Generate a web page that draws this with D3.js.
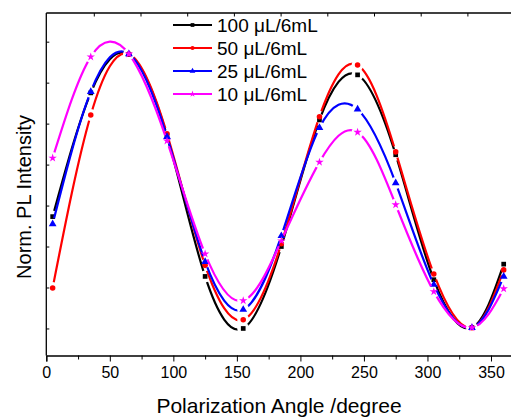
<!DOCTYPE html>
<html>
<head>
<meta charset="utf-8">
<script src="https://cdn.jsdelivr.net/npm/d3@7"></script>
<style>
  body { margin: 0; background: #fff; }
  svg { display: block; font-family: "Liberation Sans", Arial, sans-serif; }
</style>
</head>
<body>
<div id="chart"></div>
<script>
const angles = [5, 35, 65, 95, 125, 155, 185, 215, 245, 275, 305, 335, 360];
const s100 = [0.573, 0.875, 0.969, 0.770, 0.427, 0.300, 0.500, 0.809, 0.919, 0.724, 0.419, 0.302, 0.457];
const s50  = [0.399, 0.821, 0.970, 0.775, 0.454, 0.321, 0.507, 0.817, 0.943, 0.731, 0.433, 0.302, 0.443];
const s25  = [0.555, 0.878, 0.970, 0.768, 0.463, 0.346, 0.526, 0.790, 0.835, 0.655, 0.407, 0.302, 0.427];
const s10  = [0.716, 0.963, 0.970, 0.758, 0.482, 0.368, 0.514, 0.706, 0.779, 0.602, 0.390, 0.302, 0.397];
const seriesNames = ["100 \u03bcL/6mL", "50 \u03bcL/6mL", "25 \u03bcL/6mL", "10 \u03bcL/6mL"];
const xTicks = [0, 50, 100, 150, 200, 250, 300, 350];
const yTicks = [0.3, 0.4, 0.5, 0.6, 0.7, 0.8, 0.9, 1.0];

const series = [
  { name: seriesNames[0], values: s100, color: "#000000", symbol: d3.symbolSquare, size: 22 },
  { name: seriesNames[1], values: s50,  color: "#ff0000", symbol: d3.symbolCircle, size: 24 },
  { name: seriesNames[2], values: s25,  color: "#0000ff", symbol: d3.symbolTriangle, size: 26 },
  { name: seriesNames[3], values: s10,  color: "#ff00ff", symbol: d3.symbolStar, size: 22 }
];

const W = 511, H = 419;
const svg = d3.select("#chart").append("svg").attr("width", W).attr("height", H);

const x = d3.scaleLinear().domain([0, 370]).range([46.3, 516.4]);
const y = d3.scaleLinear().domain([0.234, 1.07]).range([355.5, 13]);

// top frame line
svg.append("line").attr("x1", x(0)).attr("x2", W).attr("y1", 13).attr("y2", 13)
  .attr("stroke", "#000").attr("stroke-width", 1.3);

// top ticks (inward)
d3.range(1, 12).forEach(k => {
  const px = 47.6 + 46.7 * k;
  if (px < W) svg.append("line").attr("x1", px).attr("x2", px).attr("y1", 13).attr("y2", 16.5)
    .attr("stroke", "#000").attr("stroke-width", 1);
});

// bottom axis
const xAxis = svg.append("g").attr("transform", `translate(0,${y.range()[0]})`)
  .call(d3.axisBottom(x).tickValues(xTicks).tickSize(6).tickPadding(5).tickFormat(d3.format("d")));
xAxis.select(".domain").attr("stroke-width", 1.3);
xAxis.selectAll("text").style("font-size", "16px").attr("fill", "#000");
svg.append("g").attr("transform", `translate(0,${y.range()[0]})`)
  .call(d3.axisBottom(x).tickValues(d3.range(25, 370, 50)).tickSize(4).tickFormat(""))
  .select(".domain").remove();

// left axis, no labels, inward ticks
const yAxis = svg.append("g").attr("transform", `translate(${x(0)},0)`)
  .call(d3.axisRight(y).tickValues(yTicks).tickSize(3).tickFormat(""));
yAxis.select(".domain").attr("d", `M0,${y.range()[1]}V${y.range()[0]}`).attr("stroke-width", 1.3);

// axis titles
svg.append("text").attr("x", 279).attr("y", 413).attr("text-anchor", "middle")
  .style("font-size", "21px").text("Polarization Angle /degree");
svg.append("text").attr("transform", "rotate(-90)").attr("x", -197).attr("y", 31)
  .attr("text-anchor", "middle").style("font-size", "20px").text("Norm. PL Intensity");

const line = d3.line().x(d => x(d[0])).y(d => y(d[1])).curve(d3.curveNatural);
const defs = svg.append("defs");

series.forEach((s, i) => {
  const pts = angles.map((a, j) => [a, s.values[j]]);
  const mask = defs.append("mask").attr("id", "gap" + i).attr("maskUnits", "userSpaceOnUse")
    .attr("x", 0).attr("y", 0).attr("width", W).attr("height", H);
  mask.append("rect").attr("width", W).attr("height", H).attr("fill", "#fff");
  mask.selectAll("circle").data(pts).enter().append("circle")
    .attr("cx", d => x(d[0])).attr("cy", d => y(d[1])).attr("r", 6).attr("fill", "#000");

  svg.append("path").datum(pts)
    .attr("d", line)
    .attr("fill", "none")
    .attr("stroke", s.color)
    .attr("stroke-width", 2.2)
    .attr("mask", `url(#gap${i})`);

  svg.selectAll(".m" + i).data(pts).enter().append("path")
    .attr("class", "m" + i)
    .attr("transform", d => `translate(${x(d[0])},${y(d[1])})`)
    .attr("d", d3.symbol().type(s.symbol).size(s.size))
    .attr("fill", s.color);
});

// legend
const legend = svg.append("g").attr("transform", "translate(173,25)");
series.forEach((s, i) => {
  const row = legend.append("g").attr("transform", `translate(0,${i * 23})`);
  row.append("line").attr("x1", 0).attr("x2", 39).attr("stroke", s.color).attr("stroke-width", 2.2);
  row.append("path").attr("transform", "translate(19.5,0)")
    .attr("d", d3.symbol().type(s.symbol).size(14)).attr("fill", s.color);
  row.append("text").attr("x", 44).attr("y", 6.5).style("font-size", "19px").text(s.name);
});
</script>
</body>
</html>
